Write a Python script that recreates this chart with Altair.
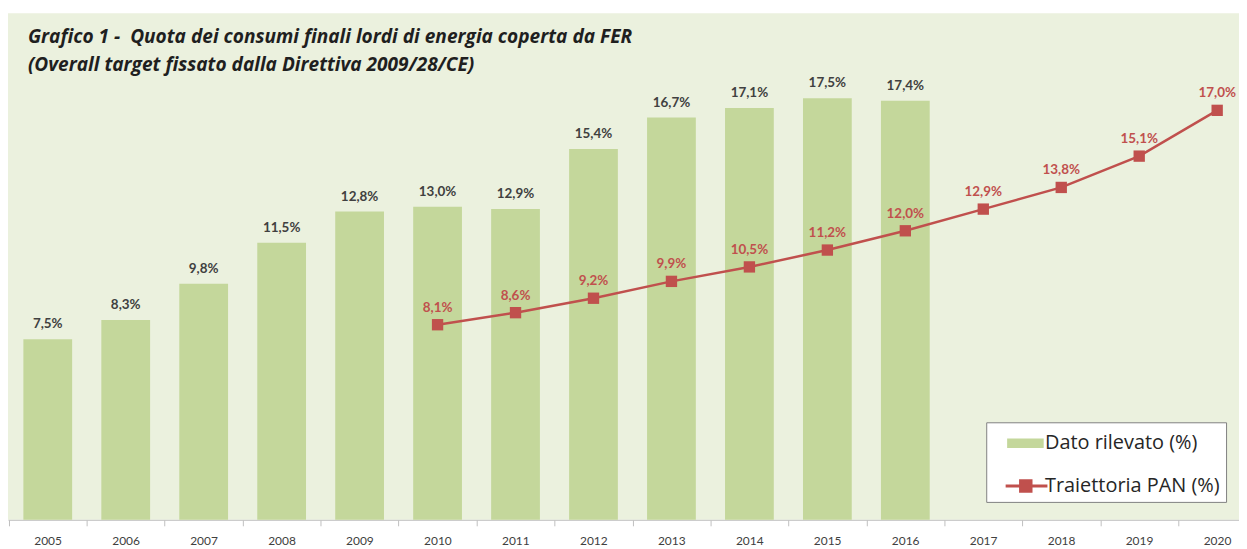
import altair as alt
import pandas as pd

# ---- data ----
bar_years = [2005, 2006, 2007, 2008, 2009, 2010, 2011, 2012, 2013, 2014, 2015, 2016]
bar_values = [7.5, 8.3, 9.8, 11.5, 12.8, 13.0, 12.9, 15.4, 16.7, 17.1, 17.5, 17.4]

pan_years = [2010, 2011, 2012, 2013, 2014, 2015, 2016, 2017, 2018, 2019, 2020]
pan_values = [8.1, 8.6, 9.2, 9.9, 10.5, 11.2, 12.0, 12.9, 13.8, 15.1, 17.0]

axis_years = list(range(2005, 2021))
series_names = ["Dato rilevato (%)", "Traiettoria PAN (%)"]
title_lines = [
    "Grafico 1 -\u00a0 Quota dei consumi finali lordi di energia coperta da FER",
    "(Overall target fissato dalla Direttiva 2009/28/CE)",
]

GREEN = "#C4D79B"
RED = "#C0504D"
BG = "#EBF1DE"
FONT = "Lato"


def fmt(v):
    return f"{v:.1f}%".replace(".", ",")


bar_df = pd.DataFrame({"year": bar_years, "value": bar_values,
                       "label": [fmt(v) for v in bar_values]})
pan_df = pd.DataFrame({"year": pan_years, "value": pan_values,
                       "label": [fmt(v) for v in pan_values]})
legend_df = pd.DataFrame({"series": series_names})

xs = alt.Scale(domain=[2004.49, 2020.28], nice=False, zero=False, padding=0)
ys = alt.Scale(domain=[0, 21.03], nice=False, zero=True)

xaxis = alt.Axis(
    values=[y - 0.5 for y in axis_years],
    labelExpr="toString(datum.value + 0.5)",
    labelOffset=39,
    title=None,
    grid=False,
    domainColor="#BFBFBF",
    tickColor="#BFBFBF",
    tickSize=6,
    labelPadding=10,
    labelFont=FONT,
    labelFontSize=12,
    labelColor="#404040",
    labelOverlap=False,
    labelBound=False,
    labelFlush=False,
)

X = alt.X("year:Q", scale=xs, axis=xaxis)
Y = alt.Y("value:Q", scale=ys, axis=None)

bars = alt.Chart(bar_df).mark_bar(color=GREEN, size=49).encode(x=X, y=Y)

bar_text = alt.Chart(bar_df).mark_text(
    baseline="bottom", dy=-8, fontSize=13.5, fontWeight="bold", font=FONT, color="#404040"
).encode(x=X, y=Y, text="label:N")

line = alt.Chart(pan_df).mark_line(color=RED, strokeWidth=2.5).encode(x=X, y=Y)
pts = alt.Chart(pan_df).mark_square(color=RED, size=130, opacity=1).encode(x=X, y=Y)
pan_text = alt.Chart(pan_df).mark_text(
    baseline="bottom", dy=-10, fontSize=13.5, fontWeight="bold", font=FONT, color=RED
).encode(x=X, y=Y, text="label:N")

# legend symbols (custom SVG paths)
path_bar = "M0,-0.32L2.45,-0.32L2.45,0.32L0,0.32Z"
path_line = ("M-0.1,-0.1L2.7,-0.1L2.7,0.1L-0.1,0.1Z "
             "M0.8,-0.45L1.7,-0.45L1.7,0.45L0.8,0.45Z")

leg = alt.Legend(
    orient="none", legendX=983, legendY=411, title=None,
    fillColor="white", strokeColor="#808080", padding=6, rowPadding=18,
    labelFontSize=20, labelFont="Open Sans", labelColor="#262626", labelLimit=400,
    symbolSize=900, labelOffset=23, symbolOpacity=1, symbolStrokeWidth=0,
)

legend_layer = alt.Chart(legend_df).transform_filter("false").mark_point(
    filled=True, size=900
).encode(
    x=alt.value(0), y=alt.value(0),
    color=alt.Color("series:N", scale=alt.Scale(domain=series_names, range=[GREEN, RED]), legend=leg),
    shape=alt.Shape("series:N", scale=alt.Scale(domain=series_names, range=[path_bar, path_line]), legend=leg),
)

title_layer = alt.Chart(pd.DataFrame({"t": [0]})).mark_text(
    align="left", baseline="top", fontSize=19.2, fontStyle="italic", fontWeight="bold",
    font="Open Sans", lineHeight=28, color="#1F1F1F"
).encode(x=alt.value(20), y=alt.value(15), text=alt.value(title_lines))

chart = alt.layer(bars, bar_text, line, pts, pan_text, legend_layer, title_layer).properties(
    width=1237, height=509,
    padding={"left": 0, "right": 0, "top": 4, "bottom": 0},
    background="white",
).configure_view(fill=BG, stroke=None)

chart.save("out.html", embed_options={"renderer": "svg", "actions": False})
